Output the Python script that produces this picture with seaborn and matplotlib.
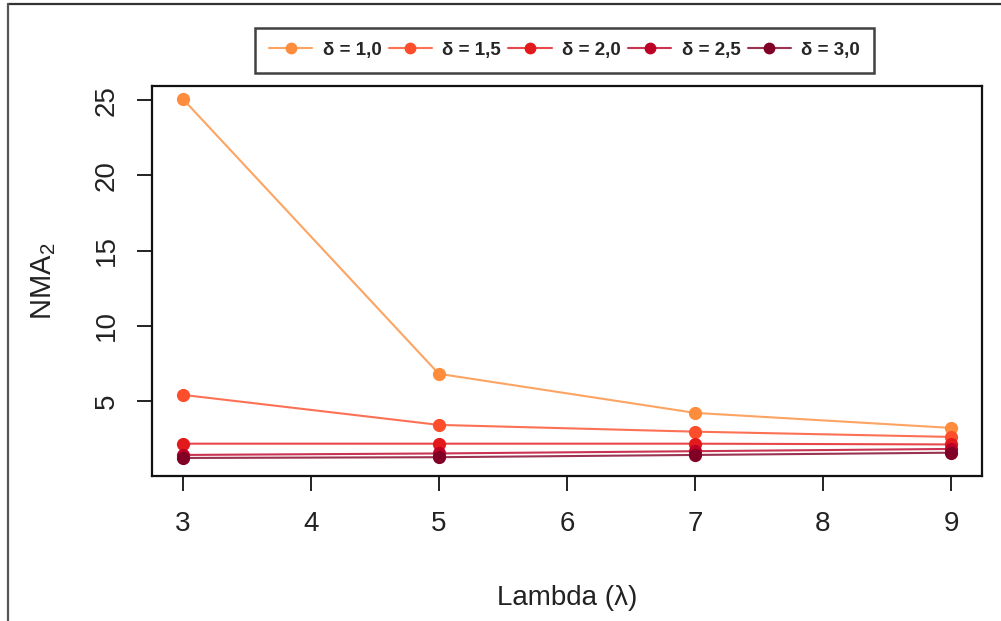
import matplotlib
matplotlib.use("Agg")
import matplotlib.pyplot as plt
from matplotlib.lines import Line2D
from matplotlib.colors import to_rgba
import numpy as np
import pandas as pd
import seaborn as sns

# Data
lambdas = [3, 5, 7, 9]
delta_labels = ["δ = 1,0", "δ = 1,5", "δ = 2,0", "δ = 2,5", "δ = 3,0"]
nma_d10 = [25.1, 6.8, 4.2, 3.2]
nma_d15 = [5.4, 3.4, 2.95, 2.6]
nma_d20 = [2.15, 2.15, 2.15, 2.1]
nma_d25 = [1.4, 1.5, 1.65, 1.8]
nma_d30 = [1.2, 1.25, 1.4, 1.55]
palette = ["#fd8d3c", "#fc4e2a", "#e31a1c", "#bd0026", "#800026"]

series = [nma_d10, nma_d15, nma_d20, nma_d25, nma_d30]
df = pd.DataFrame({
    "lambda": np.tile(lambdas, len(series)),
    "nma": np.concatenate(series),
    "delta": np.repeat(delta_labels, len(lambdas)),
})

sns.set_style("white")
plt.rcParams["font.family"] = ["Liberation Sans", "DejaVu Sans"]
plt.rcParams["mathtext.fontset"] = "custom"
plt.rcParams["mathtext.rm"] = "Liberation Sans"
plt.rcParams["mathtext.it"] = "Liberation Sans:italic"

fig = plt.figure(figsize=(10.01, 6.21), dpi=100)
ax = fig.add_axes([0.1518, 0.2335, 0.829, 0.628])

sns.lineplot(data=df, x="lambda", y="nma", hue="delta", hue_order=delta_labels,
             palette=palette, marker="o", markersize=9.5, markeredgewidth=0,
             linewidth=1.5, legend=False, ax=ax)

# softer lines, solid markers
for line, col in zip(ax.lines, palette):
    line.set_color(to_rgba(col, 0.8))
    line.set_markerfacecolor(to_rgba(col, 1.0))
    line.set_markeredgecolor(to_rgba(col, 1.0))

ax.set_xlim(2.76, 9.24)
ax.set_ylim(0.0, 25.95)
ax.set_xticks([3, 4, 5, 6, 7, 8, 9])
ax.set_yticks([5, 10, 15, 20, 25])

for s in ax.spines.values():
    s.set_visible(True)
    s.set_color("#111111")
    s.set_linewidth(1.6)

ax.tick_params(axis="both", which="major", direction="out", length=11,
               width=1.4, color="#222222", labelsize=20, labelcolor="#222222",
               left=True, bottom=True)
ax.tick_params(axis="x", pad=14)
ax.tick_params(axis="y", pad=12)
for lbl in ax.get_yticklabels():
    lbl.set_rotation(90)
    lbl.set_va("center")

ax.set_xlabel("Lambda (λ)", fontsize=20, color="#222222", labelpad=35)
ax.set_ylabel("NMA$_2$", fontsize=21, color="#222222", labelpad=26)

handles = [Line2D([0], [0], color=to_rgba(c, 0.8), lw=1.5, marker="o",
                  markersize=8.5, markerfacecolor=c, markeredgewidth=0)
           for c in palette]
leg = fig.legend(handles, delta_labels, loc="center",
                 bbox_to_anchor=(0.564, 0.919), bbox_transform=fig.transFigure,
                 ncol=5, frameon=True, fancybox=False, handlelength=2.3,
                 handletextpad=0.55, columnspacing=0.4, borderpad=0.75,
                 prop={"weight": "bold", "size": 13.5})
leg.get_frame().set_edgecolor("#111111")
leg.get_frame().set_linewidth(1.8)

# outer frame (top and left edges)
fig.add_artist(Line2D([0.0075, 1.0], [0.994, 0.994], transform=fig.transFigure,
                      color="#333333", lw=1.6))
fig.add_artist(Line2D([0.0075, 0.0075], [0.0, 0.994], transform=fig.transFigure,
                      color="#555555", lw=1.6))

fig.savefig("out.png", dpi=100, facecolor="white")
